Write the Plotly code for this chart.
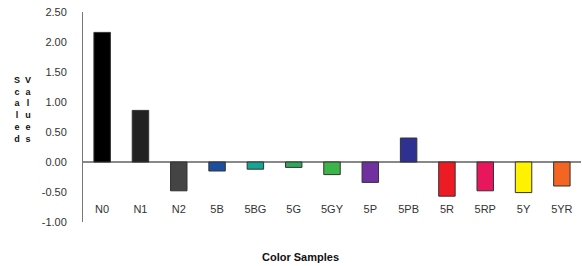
import plotly.graph_objects as go

categories = ["N0", "N1", "N2", "5B", "5BG", "5G", "5GY", "5P", "5PB", "5R", "5RP", "5Y", "5YR"]
values = [2.16, 0.86, -0.48, -0.15, -0.12, -0.09, -0.21, -0.34, 0.40, -0.57, -0.48, -0.51, -0.40]
colors = ["#000000", "#222222", "#444444", "#1d4f9e", "#17a593", "#2ea85a", "#3db44a",
          "#7030a0", "#2e3192", "#ed1c24", "#e8175d", "#fff200", "#f26522"]
y_ticks = [2.5, 2.0, 1.5, 1.0, 0.5, 0.0, -0.5, -1.0]
y_tick_labels = ["2.50", "2.00", "1.50", "1.00", "0.50", "0.00", "-0.50", "-1.00"]

fig = go.Figure(go.Bar(
    x=categories, y=values, width=0.43,
    marker=dict(color=colors, line=dict(color="#333333", width=1)),
))

font = "Liberation Sans, Arial, sans-serif"
fig.update_layout(
    width=582, height=266,
    margin=dict(l=83, r=1, t=12, b=44),
    paper_bgcolor="white", plot_bgcolor="white",
    showlegend=False,
    font=dict(family=font, size=11, color="#333333"),
    xaxis=dict(
        range=[-0.5, 12.5], anchor="free", position=0.1,
        showline=False, showgrid=False, zeroline=False, ticks="",
        tickfont=dict(size=11, color="#333333"),
    ),
    yaxis=dict(
        range=[-1, 2.5], tickvals=y_ticks, ticktext=y_tick_labels,
        showline=True, linecolor="#777777", linewidth=1,
        showgrid=False, zeroline=True, zerolinecolor="#888888", zerolinewidth=1.5,
        ticks="", ticklabelstandoff=13,
        tickfont=dict(size=11, color="#333333"),
    ),
    annotations=[
        dict(text="<b>Color Samples</b>", xref="paper", yref="paper",
             x=(300 - 83) / 498, y=(222 - 257) / 210, xanchor="center", yanchor="middle",
             showarrow=False, font=dict(size=11, color="#111111")),
        dict(text="<b>S<br>c<br>a<br>l<br>e<br>d</b>", xref="paper", yref="paper",
             x=(17 - 83) / 498, y=(222 - 109.5) / 210, xanchor="center", yanchor="middle",
             showarrow=False, font=dict(size=9, color="#111111"), align="center"),
        dict(text="<b>V<br>a<br>l<br>u<br>e<br>s</b>", xref="paper", yref="paper",
             x=(28 - 83) / 498, y=(222 - 109.5) / 210, xanchor="center", yanchor="middle",
             showarrow=False, font=dict(size=9, color="#111111"), align="center"),
    ],
)

fig.write_html(
    "out.html",
    config={"displayModeBar": False},
    post_script="document.body.style.margin='0';document.body.style.overflow='hidden';",
)
